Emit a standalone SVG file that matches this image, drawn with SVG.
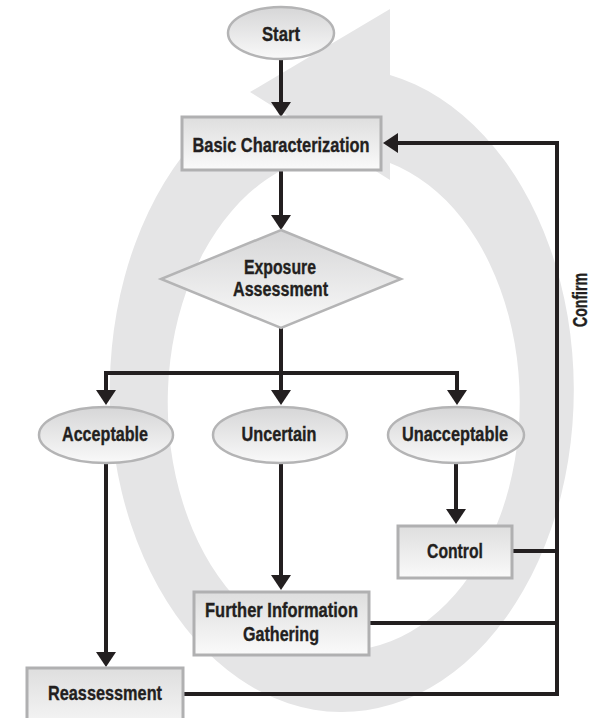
<svg xmlns="http://www.w3.org/2000/svg" width="593" height="718" viewBox="0 0 593 718">
<defs>
<linearGradient id="gNode" x1="0" y1="0" x2="0" y2="1">
<stop offset="0" stop-color="#d6d6d7"/>
<stop offset="1" stop-color="#f9f9f9"/>
</linearGradient>
<linearGradient id="gBox" x1="0" y1="0" x2="0" y2="1">
<stop offset="0" stop-color="#dedede"/>
<stop offset="1" stop-color="#fafafa"/>
</linearGradient>
<marker id="ah" viewBox="0 0 15 20" refX="5" refY="10" markerWidth="15" markerHeight="20" markerUnits="userSpaceOnUse" orient="auto-start-reverse">
<path d="M0,0 L15,10 L0,20 Z" fill="#231f20"/>
</marker>
<style>
.ring{fill:#e5e5e6;stroke:none}
.conn{fill:none;stroke:#231f20;stroke-width:4;stroke-linejoin:miter}
.arr{marker-end:url(#ah)}
.ell{fill:url(#gNode);stroke:#b4b4b5;stroke-width:2.5}
.dia{fill:url(#gNode);stroke:#b4b4b5;stroke-width:2.5}
.box{fill:url(#gBox);stroke:#b0b0b1;stroke-width:3}
text{font-family:"Liberation Sans",Arial,sans-serif;font-weight:bold;font-size:21px;fill:#231f20;stroke:#231f20;stroke-width:0.35;text-anchor:middle}
.sm{font-size:20px}
</style>
</defs>
<path class="ring" d="M390,75 A232,322 0 1 1 202,133 L286,168 A176,248 0 1 0 390,163 L390,180 L250,92 L390,9 Z"/>
<g id="connectors">
<path class="conn arr" d="M281,58 V107"/>
<path class="conn arr" d="M281,170 V220"/>
<path class="conn arr" d="M281,328 V395"/>
<path class="conn" d="M106,395 V373 H457 V395" marker-start="url(#ah)" marker-end="url(#ah)"/>
<path class="conn arr" d="M106,463 V657"/>
<path class="conn arr" d="M281,463 V580"/>
<path class="conn arr" d="M456,463 V514"/>
<path class="conn arr" d="M183,694 H557 V143 H393"/>
<path class="conn" d="M512,551 H557"/>
<path class="conn" d="M369,623 H557"/>
</g>
<g id="start">
<ellipse class="ell" cx="281" cy="33" rx="53" ry="26"/>
<text x="281" y="41" textLength="38" lengthAdjust="spacingAndGlyphs">Start</text>
</g>
<g id="basic">
<rect class="box" x="182" y="117" width="199" height="53"/>
<text x="281" y="152" textLength="177" lengthAdjust="spacingAndGlyphs">Basic Characterization</text>
</g>
<g id="exposure">
<polygon class="dia" points="281,230 401,279 281,328 161,279"/>
<text class="sm" x="280" y="274" textLength="72" lengthAdjust="spacingAndGlyphs">Exposure</text>
<text class="sm" x="280.5" y="296" textLength="95" lengthAdjust="spacingAndGlyphs">Assessment</text>
</g>
<g id="acceptable">
<ellipse class="ell" cx="106" cy="435" rx="67" ry="28"/>
<text x="105" y="441" textLength="86" lengthAdjust="spacingAndGlyphs">Acceptable</text>
</g>
<g id="uncertain">
<ellipse class="ell" cx="280" cy="435" rx="67" ry="28"/>
<text x="279" y="441" textLength="75" lengthAdjust="spacingAndGlyphs">Uncertain</text>
</g>
<g id="unacceptable">
<ellipse class="ell" cx="456" cy="435" rx="68" ry="28"/>
<text x="455" y="441" textLength="106" lengthAdjust="spacingAndGlyphs">Unacceptable</text>
</g>
<g id="control">
<rect class="box" x="398" y="526" width="114" height="52"/>
<text x="455" y="558" textLength="56" lengthAdjust="spacingAndGlyphs">Control</text>
</g>
<g id="further">
<rect class="box" x="194" y="592" width="175" height="63"/>
<text class="sm" x="281.5" y="617" textLength="153" lengthAdjust="spacingAndGlyphs">Further Information</text>
<text class="sm" x="281" y="641" textLength="76" lengthAdjust="spacingAndGlyphs">Gathering</text>
</g>
<g id="reassessment">
<rect class="box" x="27" y="668" width="156" height="70"/>
<text x="105" y="700" textLength="114" lengthAdjust="spacingAndGlyphs">Reassessment</text>
</g>
<g id="confirm">
<text transform="translate(587,300) rotate(-90)" x="0" y="0" textLength="54" lengthAdjust="spacingAndGlyphs">Confirm</text>
</g>
</svg>
